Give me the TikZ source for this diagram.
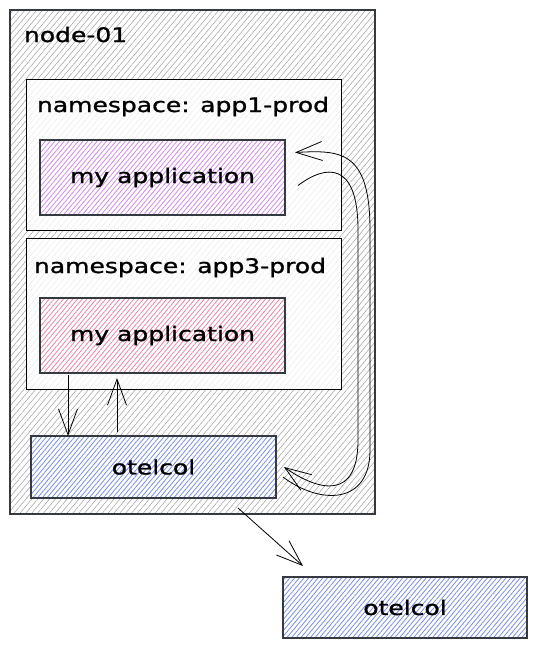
\documentclass[tikz,border=0pt]{standalone}
\usepackage{fontspec}
\newfontfamily\hand[FakeStretch=1.25,FakeBold=1.2]{DejaVu Sans}
\usetikzlibrary{patterns.meta,arrows.meta,calc}
\definecolor{ink}{HTML}{000000}
\definecolor{frame}{HTML}{343A40}
\definecolor{hpurple}{RGB}{206,135,236}
\definecolor{hpink}{RGB}{238,130,165}
\definecolor{hblue}{RGB}{120,140,236}
\begin{document}
\begin{tikzpicture}[x=1pt,y=-1pt,
  every node/.style={inner sep=0pt,outer sep=0pt},
  txt/.style={font=\hand\fontsize{20}{24}\selectfont,text=ink},
  outerbox/.style={draw=frame,line width=1.6pt,preaction={fill=white},
    pattern={Lines[angle=50,distance=4.5pt,line width=0.5pt]},pattern color=gray!75},
  nsbox/.style={draw=ink,line width=0.8pt,preaction={fill=white},
    pattern={Lines[angle=50,distance=4.5pt,line width=0.4pt]},pattern color=gray!18},
  appbox/.style={txt,draw=frame,line width=1.4pt,preaction={fill=white},
    pattern={Lines[angle=50,distance=3.6pt,line width=0.8pt]},pattern color=#1},
  arr/.style={draw=ink,line width=0.8pt,-{Straight Barb[length=26pt,width=19pt]}}
]
\useasboundingbox (0,0) rectangle (536,649);

\node[outerbox,minimum width=365pt,minimum height=504pt] (host) at (192.5,262) {};
\node[txt,anchor=base west] (hostlabel) at (24,42) {node-01};

\node[nsbox,minimum width=315pt,minimum height=151pt] (ns1) at (183.5,154.5) {};
\node[txt,anchor=base] (ns1label) at (183,112) {namespace: app1-prod};
\node[appbox=hpurple,minimum width=245pt,minimum height=75pt] (app1) at (162.5,177.5) {my application};

\node[nsbox,minimum width=315pt,minimum height=151pt] (ns3) at (183.5,313.5) {};
\node[txt,anchor=base] (ns3label) at (180,273) {namespace: app3-prod};
\node[appbox=hpink,minimum width=245pt,minimum height=75pt] (app3) at (162.5,335.5) {my application};

\node[appbox=hblue,minimum width=245pt,minimum height=62pt] (otel1) at (153.5,467) {otelcol};
\node[appbox=hblue,minimum width=244pt,minimum height=61pt] (otel2) at (405,607.5) {otelcol};

\draw[arr] ([xshift=28pt,yshift=-2pt]app3.south west) -- ([xshift=37pt]otel1.north west);
\draw[arr] ([xshift=86pt,yshift=4pt]otel1.north west) -- ([xshift=77pt,yshift=-5pt]app3.south west);
\draw[arr] ([xshift=207pt,yshift=-10pt]otel1.south west) -- ([xshift=20pt,yshift=11pt]otel2.north west);

\draw[arr] ($(otel1.east)+(7,10)$) .. controls (320,505) and (370,505) .. (370,450)
   -- (370,230) .. controls (370,150) and (340,150) .. ($(app1.east)+(10,-25)$);
\draw[arr] ($(app1.east)+(13,8)$) .. controls (325,165) and (358,160) .. (358,230)
   -- (358,440) .. controls (358,500) and (320,492) .. ($(otel1.east)+(8,0)$);
\end{tikzpicture}
\end{document}
